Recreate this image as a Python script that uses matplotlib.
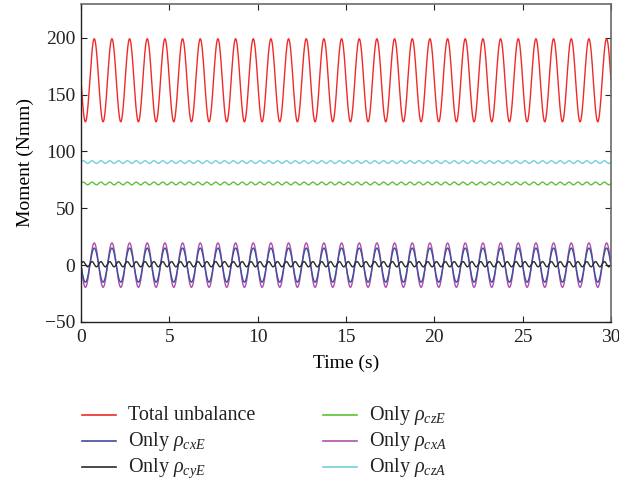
import numpy as np
import matplotlib
matplotlib.use("Agg")
import matplotlib.pyplot as plt
from matplotlib.lines import Line2D

plt.rcParams['font.family'] = ['Liberation Serif', 'DejaVu Serif']
plt.rcParams['mathtext.fontset'] = 'custom'
plt.rcParams['mathtext.it'] = 'Liberation Serif:italic'
plt.rcParams['mathtext.rm'] = 'Liberation Serif'

# Series: each is a steady sinusoidal moment
labels = ['Total unbalance', r'Only $\rho_{cxE}$', r'Only $\rho_{cyE}$',
          r'Only $\rho_{czE}$', r'Only $\rho_{cxA}$', r'Only $\rho_{czA}$']
offsets = [162.5, 0.0, 0.8, 71.8, 0.0, 90.6]        # Nmm
amplitudes = [36.5, 15.0, 2.3, 1.2, 19.5, 1.2]      # Nmm
frequencies = [1.0, 1.0, 2.0, 2.0, 1.0, 2.0]        # Hz
phases = [np.pi, np.pi, 0.0, 0.0, np.pi, 0.0]       # rad
colors = ['#ee2a2a', '#3b4f9e', '#2b2b2b', '#5cc23a', '#b04fa8', '#72d0de']
draw_order = [0, 3, 5, 4, 1, 2]

xticks = [0, 5, 10, 15, 20, 25, 30]
yticks = [-50, 0, 50, 100, 150, 200]

t = np.linspace(0, 30, 6001)

W, H = 619, 487
fig = plt.figure(figsize=(W / 100, H / 100), dpi=100)
ax = fig.add_axes([81 / W, 1 - 322 / H, (611 - 81) / W, (322 - 3.5) / H])

for i in draw_order:
    y = offsets[i] + amplitudes[i] * np.sin(2 * np.pi * frequencies[i] * t + phases[i])
    ax.plot(t, y, color=colors[i], lw=1.0)

ax.set_xlim(0, 30)
ax.set_ylim(-50, 230)
ax.set_xticks(xticks)
ax.set_yticks(yticks)
ax.set_yticklabels(['\u221250' if v < 0 else str(v) for v in yticks])
ax.tick_params(direction='in', labelsize=14, length=4, width=0.8,
               top=True, right=True, colors='#222222', pad=4)
ax.tick_params(axis='x', pad=5)
for s in ['left', 'bottom']:
    ax.spines[s].set_linewidth(1.0)
    ax.spines[s].set_color('#222222')
for s in ['top', 'right']:
    ax.spines[s].set_linewidth(1.2)
    ax.spines[s].set_color('#6a6a6a')
ax.set_xlabel('Time (s)', fontsize=14, labelpad=6)
ax.set_ylabel('Moment (Nmm)', fontsize=14, labelpad=8)

# Legend drawn below the axes in two columns
col_x = [82, 323]
row_y = [415, 441, 467]
for k in range(6):
    c, r = divmod(k, 3)
    x0 = col_x[c]
    yc = row_y[r]
    fig.add_artist(Line2D([x0 / W, (x0 + 34) / W], [1 - yc / H, 1 - yc / H],
                          color=colors[k], lw=1.2, transform=fig.transFigure))
    fig.text((x0 + 46) / W, 1 - (yc + 5) / H, labels[k], fontsize=14.5,
             ha='left', va='baseline', color='#222222')

fig.savefig('out.png', dpi=100)
